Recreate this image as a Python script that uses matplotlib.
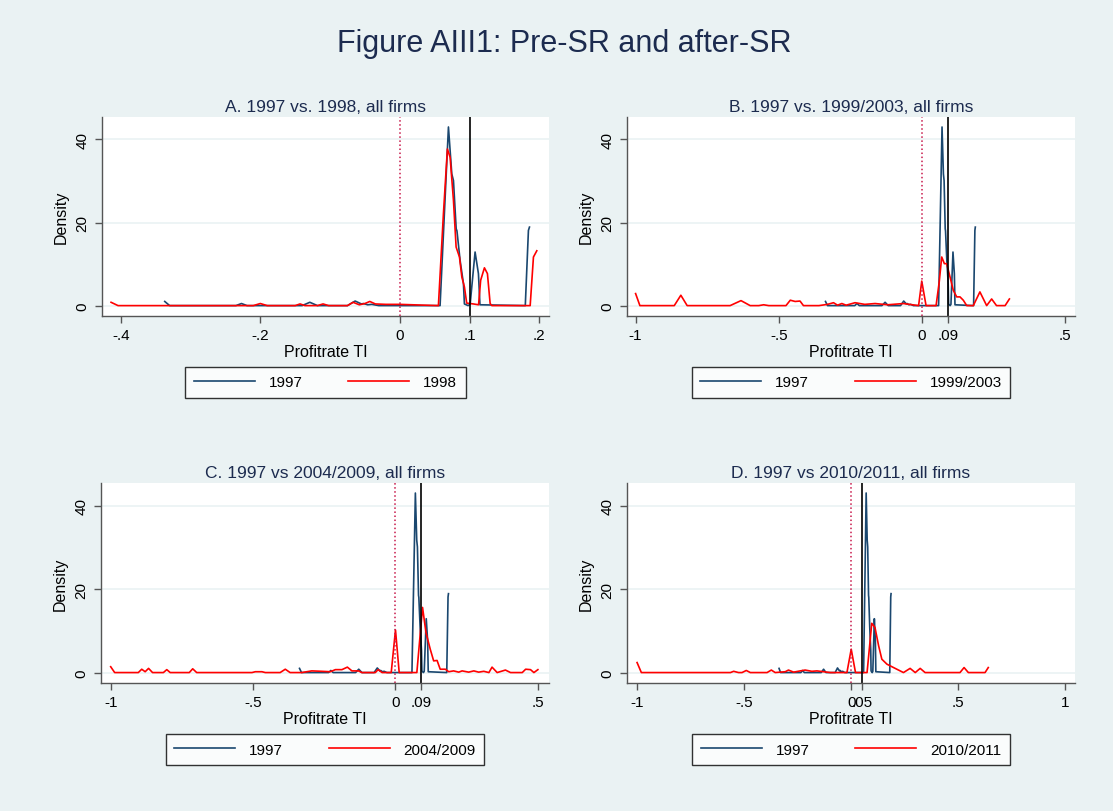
import numpy as np
import matplotlib
matplotlib.use("Agg")
import matplotlib.pyplot as plt

plt.rcParams['font.family'] = ['Liberation Sans', 'DejaVu Sans']

# 1997 density (same in every panel)
x97 = [-0.337, -0.330, -0.235, -0.227, -0.219, -0.14, -0.129, -0.118, -0.075,
       -0.064, -0.055, -0.052, -0.046, -0.04, -0.03, 0.0578, 0.0698, 0.0746,
       0.077, 0.0809, 0.082, 0.0865, 0.0913, 0.0927, 0.098, 0.1009, 0.108,
       0.1128, 0.115, 0.18, 0.1845, 0.186]
y97 = [1.0, 0.0, 0.0, 0.5, 0.0, 0.0, 0.8, 0.0, 0.0,
       1.1, 0.4, 0.5, 0.2, 0.3, 0.0, 0.0, 43.0, 31.7,
       30.1, 18.5, 18.0, 10.9, 5.3, 0.4, 0.0, 0.3, 12.9,
       7.7, 0.2, 0.0, 18.1, 18.9]

# 1998
x98 = [-0.414, -0.404, -0.21, -0.2, -0.19, -0.15, -0.143, -0.136, -0.118, -0.11,
       -0.102, -0.075, -0.067, -0.058, -0.05, -0.043, -0.035, -0.02, 0.0, 0.0554,
       0.0626, 0.0683, 0.0722, 0.077, 0.0808, 0.0856, 0.089, 0.0927, 0.096,
       0.1056, 0.113, 0.116, 0.1214, 0.1257, 0.1296, 0.132, 0.187, 0.1917, 0.1965]
y98 = [0.8, 0.0, 0.0, 0.5, 0.0, 0.0, 0.4, 0.0, 0.0, 0.4,
       0.0, 0.0, 0.8, 0.2, 0.5, 1.0, 0.4, 0.3, 0.3, 0.0,
       22.1, 37.7, 35.7, 25.3, 14.1, 11.7, 6.9, 4.5, 0.6,
       0.4, 0.2, 6.1, 9.1, 7.7, 0.5, 0.0, 0.0, 11.7, 13.2]

# 1999/2003
x99 = [-1.0, -0.985, -0.865, -0.842, -0.82, -0.67, -0.632, -0.6, -0.57, -0.553,
       -0.535, -0.475, -0.46, -0.443, -0.426, -0.414, -0.36, -0.33, -0.309, -0.295,
       -0.28, -0.265, -0.234, -0.2, -0.164, -0.12, -0.065, -0.012, -0.001, 0.014,
       0.049, 0.06, 0.0687, 0.078, 0.086, 0.0977, 0.109, 0.121, 0.1325, 0.144,
       0.156, 0.179, 0.202, 0.2256, 0.243, 0.26, 0.29, 0.305]
y99 = [2.9, 0.0, 0.0, 2.5, 0.0, 0.0, 1.2, 0.0, 0.0, 0.2,
       0.0, 0.0, 1.3, 1.0, 1.1, 0.0, 0.0, 0.3, 0.7, 0.1,
       0.5, 0.1, 0.7, 0.3, 0.5, 0.2, 0.5, 0.0, 5.9, 0.0,
       0.0, 5.7, 11.7, 10.1, 10.1, 6.9, 3.7, 2.1, 2.1, 1.3,
       0.0, 0.0, 3.3, 0.0, 1.6, 0.0, 0.0, 1.6]

# 2004/2009
x04 = [-1.0, -0.986, -0.903, -0.891, -0.879, -0.867, -0.853, -0.815, -0.803, -0.791,
       -0.724, -0.712, -0.698, -0.504, -0.492, -0.469, -0.457, -0.405, -0.387, -0.37,
       -0.329, -0.294, -0.259, -0.229, -0.211, -0.188, -0.169, -0.153, -0.13, -0.118,
       -0.071, -0.061, -0.047, -0.015, 0.0, 0.013, 0.075, 0.095, 0.107, 0.122,
       0.134, 0.146, 0.157, 0.175, 0.187, 0.204, 0.222, 0.234, 0.257, 0.275,
       0.292, 0.31, 0.328, 0.339, 0.357, 0.386, 0.404, 0.445, 0.457, 0.474,
       0.486, 0.5]
y04 = [1.4, 0.0, 0.0, 0.8, 0.2, 1.0, 0.0, 0.0, 0.7, 0.0,
       0.0, 0.9, 0.0, 0.0, 0.2, 0.2, 0.0, 0.0, 0.8, 0.0,
       0.0, 0.4, 0.3, 0.2, 0.7, 0.7, 1.3, 0.4, 0.4, 0.0,
       0.0, 0.7, 0.0, 0.0, 10.2, 0.0, 0.0, 15.6, 9.6, 5.6,
       2.8, 2.9, 0.8, 0.8, 0.2, 0.4, 0.1, 0.4, 0.1, 0.4,
       0.1, 0.3, 0.0, 1.3, 0.0, 0.6, 0.0, 0.0, 0.8, 0.7,
       0.0, 0.7]

# 2010/2011
x10 = [-1.0, -0.98, -0.564, -0.549, -0.526, -0.51, -0.49, -0.471, -0.393, -0.373,
       -0.355, -0.308, -0.293, -0.269, -0.238, -0.215, -0.184, -0.16, -0.129, -0.098,
       -0.02, 0.0, 0.02, 0.074, 0.096, 0.111, 0.128, 0.143, 0.167, 0.19,
       0.213, 0.244, 0.275, 0.299, 0.322, 0.345, 0.508, 0.527, 0.547, 0.625,
       0.64]
y10 = [2.4, 0.0, 0.0, 0.3, 0.0, 0.0, 0.5, 0.0, 0.0, 0.6,
       0.0, 0.2, 0.6, 0.1, 0.4, 0.6, 0.3, 0.4, 0.2, 0.0,
       0.0, 5.6, 0.0, 0.0, 11.8, 10.8, 6.4, 3.2, 2.0, 1.4,
       0.8, 0.0, 1.0, 0.0, 1.0, 0.0, 0.0, 1.2, 0.0, 0.0,
       1.2]

panels = [
    dict(title="A. 1997 vs. 1998, all firms", xs=x98, ys=y98, lab="1998",
         vline=0.1, xlim=(-0.427, 0.214),
         ticks=[-0.4, -0.2, 0, 0.1, 0.2], labels=["-.4", "-.2", "0", ".1", ".2"]),
    dict(title="B. 1997 vs. 1999/2003, all firms", xs=x99, ys=y99, lab="1999/2003",
         vline=0.09, xlim=(-1.03, 0.534),
         ticks=[-1, -0.5, 0, 0.09, 0.5], labels=["-1", "-.5", "0", ".09", ".5"]),
    dict(title="C. 1997 vs 2004/2009, all firms", xs=x04, ys=y04, lab="2004/2009",
         vline=0.09, xlim=(-1.034, 0.539),
         ticks=[-1, -0.5, 0, 0.09, 0.5], labels=["-1", "-.5", "0", ".09", ".5"]),
    dict(title="D. 1997 vs 2010/2011, all firms", xs=x10, ys=y10, lab="2010/2011",
         vline=0.05, xlim=(-1.047, 1.045),
         ticks=[-1, -0.5, 0, 0.05, 0.5, 1], labels=["-1", "-.5", "0", ".05", ".5", "1"]),
]

bg = '#EAF2F3'
navy = '#1a476f'
txtcol = '#1c2b4f'
W, H = 1113, 812
fig = plt.figure(figsize=(W / 100, H / 100), dpi=100, facecolor=bg)

# axes boxes in pixels: left, top, right, bottom
boxes = [(102, 118, 549, 317), (627, 118, 1075, 317),
         (101, 484, 549, 684), (627, 484, 1075, 684)]

for p, (l, t, r, b) in zip(panels, boxes):
    ax = fig.add_axes([l / W, 1 - b / H, (r - l) / W, (b - t) / H])
    ax.set_facecolor('white')
    ax.set_ylim(-2.5, 45.4)
    ax.set_xlim(*p['xlim'])
    ax.set_yticks([0, 20, 40])
    ax.set_yticklabels(["0", "20", "40"], rotation=90, va='center')
    ax.set_xticks(p['ticks'])
    ax.set_xticklabels(p['labels'])
    ax.grid(axis='y', color=bg, lw=1.2)
    ax.set_axisbelow(True)
    for s in ['top', 'right']:
        ax.spines[s].set_visible(False)
    for s in ['left', 'bottom']:
        ax.spines[s].set_color('#555555')
        ax.spines[s].set_linewidth(1.0)
    ax.tick_params(direction='out', length=5, width=1, color='#555555',
                   labelsize=11, pad=4)

    ax.plot(x97, y97, color=navy, lw=1.2, label="1997")
    ax.plot(p['xs'], p['ys'], color='red', lw=1.2, label=p['lab'])
    ax.axvline(0, color='#c8194b', ls=':', lw=1.1)
    ax.axvline(p['vline'], color='black', lw=1.2)

    ax.set_title(p['title'], fontsize=12.5, color=txtcol, pad=4)
    ax.set_xlabel("Profitrate TI", fontsize=11.5, labelpad=1)
    ax.set_ylabel("Density", fontsize=11.5, labelpad=5)

    leg = ax.legend(loc='upper center', bbox_to_anchor=(0.5, -0.256), ncol=2,
                    frameon=True, fancybox=False, edgecolor='black',
                    fontsize=11, handlelength=4, handletextpad=0.9,
                    columnspacing=3.0, borderpad=0.55, borderaxespad=0)
    leg.get_frame().set_linewidth(1.0)
    for ln in leg.get_lines():
        ln.set_linewidth(1.2)

fig.text(564 / W, 1 - 44 / H, "Figure AIII1: Pre-SR and after-SR",
         ha='center', va='center', fontsize=22, color=txtcol)

fig.savefig("out.png", dpi=100, facecolor=bg)
